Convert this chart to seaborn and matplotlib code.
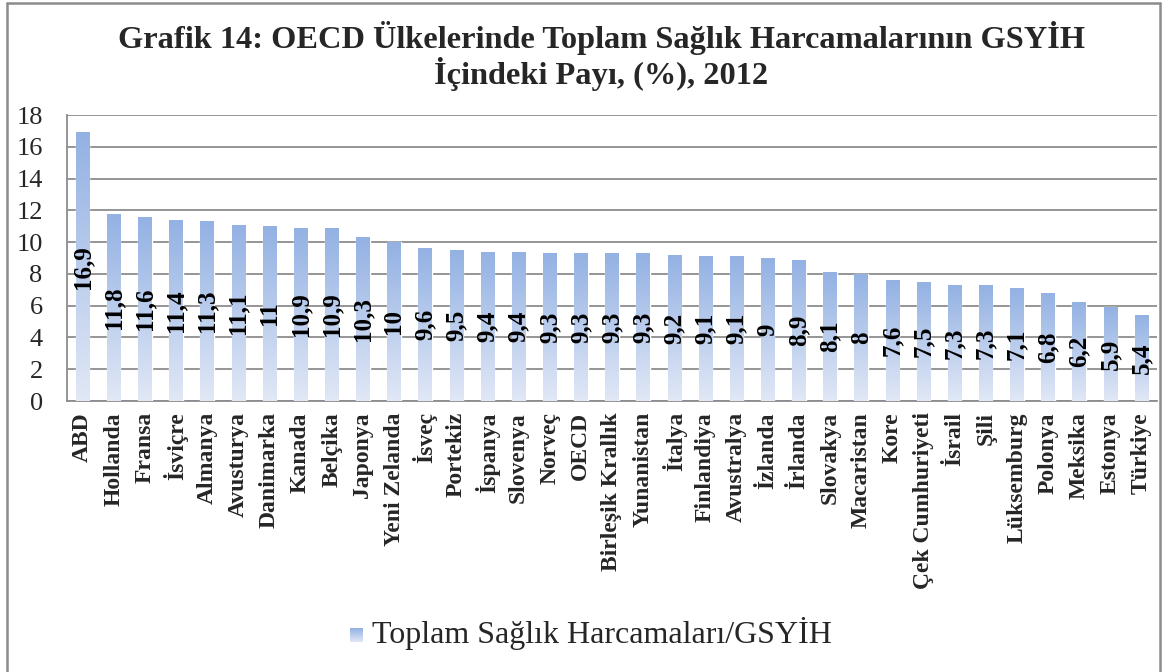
import numpy as np
import pandas as pd
import matplotlib
matplotlib.use("Agg")
import matplotlib.pyplot as plt
import seaborn as sns
from matplotlib.colors import LinearSegmentedColormap
from matplotlib.lines import Line2D

countries = ["ABD", "Hollanda", "Fransa", "İsviçre", "Almanya", "Avusturya", "Danimarka",
             "Kanada", "Belçika", "Japonya", "Yeni Zelanda", "İsveç", "Portekiz", "İspanya",
             "Slovenya", "Norveç", "OECD", "Birleşik Krallık", "Yunanistan", "İtalya",
             "Finlandiya", "Avustralya", "İzlanda", "İrlanda", "Slovakya", "Macaristan",
             "Kore", "Çek Cumhuriyeti", "İsrail", "Şili", "Lüksemburg", "Polonya",
             "Meksika", "Estonya", "Türkiye"]
values = [16.9, 11.8, 11.6, 11.4, 11.3, 11.1, 11.0, 10.9, 10.9, 10.3, 10.0, 9.6, 9.5, 9.4,
          9.4, 9.3, 9.3, 9.3, 9.3, 9.2, 9.1, 9.1, 9.0, 8.9, 8.1, 8.0, 7.6, 7.5, 7.3, 7.3,
          7.1, 6.8, 6.2, 5.9, 5.4]
yticks = [0, 2, 4, 6, 8, 10, 12, 14, 16, 18]
title = "Grafik 14: OECD Ülkelerinde Toplam Sağlık Harcamalarının GSYİH\nİçindeki Payı, (%), 2012"
series_name = "Toplam Sağlık Harcamaları/GSYİH"

df = pd.DataFrame({"country": countries, "value": values})

sns.set_style("white")
plt.rcParams["font.family"] = ["Liberation Serif", "DejaVu Serif"]

W, H = 1163, 672
fig = plt.figure(figsize=(W / 100, H / 100), dpi=100)
ax = fig.add_axes([67 / W, 1 - 401 / H, (1157 - 67) / W, (401 - 115) / H])

top_c = "#93B1E3"
bot_c = "#E1E8F6"
cmap = LinearSegmentedColormap.from_list("g", [bot_c, top_c])
grad = np.linspace(0, 1, 256).reshape(-1, 1)

sns.barplot(data=df, x="country", y="value", color=top_c, width=0.43, ax=ax,
            saturation=1, zorder=3)

ax.set_xlim(-0.5, len(countries) - 0.5)
ax.set_ylim(0, 18)
for p in list(ax.patches):
    x0 = p.get_x()
    w, h = p.get_width(), p.get_height()
    im = ax.imshow(grad, cmap=cmap, origin="lower", aspect="auto",
                   extent=(x0, x0 + w, 0, h), zorder=3.5)
    im.set_clip_path(p)
ax.set_xlim(-0.5, len(countries) - 0.5)
ax.set_ylim(0, 18)

def fmt(v):
    s = f"{v:.1f}".replace(".", ",")
    return s[:-2] if s.endswith(",0") else s

for i, v in enumerate(values):
    ax.text(i, v / 2, fmt(v), rotation=90, ha="center", va="center",
            fontsize=18, fontweight="bold", color="black", zorder=5)

gc = "#8C8C8C"
ax.set_yticks(yticks)
ax.set_yticklabels([str(t) for t in yticks], fontsize=19)
ax.grid(axis="y", color=gc, linewidth=1.3, zorder=0)
ax.set_axisbelow(True)
ax.set_xlabel("")
ax.set_ylabel("")
ax.set_xticks(range(len(countries)))
ax.set_xticklabels(countries, rotation=90, fontsize=17, fontweight="bold", va="top", ha="center")
ax.tick_params(axis="x", length=0, pad=8)
ax.set_xticks(np.arange(-0.5, len(countries), 1), minor=True)
ax.tick_params(axis="x", which="minor", length=6, width=1.3, color=gc, direction="out")
ax.tick_params(axis="y", length=7.5, width=1.3, color=gc, direction="out", pad=10)
for s in ["top", "right"]:
    ax.spines[s].set_visible(False)
for s in ["left", "bottom"]:
    ax.spines[s].set_color(gc)
    ax.spines[s].set_linewidth(1.3)

fig.text(601 / W, 1 - 56 / H, title, ha="center", va="center", fontsize=23.3,
         fontweight="bold", linespacing=1.05, multialignment="center")

# legend
lax = fig.add_axes([350 / W, 1 - 642 / H, 13 / W, 14 / H])
lax.imshow(grad, cmap=cmap, origin="lower", aspect="auto")
lax.axis("off")
fig.text(372 / W, 1 - 634 / H, series_name, ha="left", va="center", fontsize=23)

# figure frame (left, top, right visible)
xl, xr, yt = 7 / W, 1160 / W, 1 - 3 / H
for xs, ys in [([xl, xl], [0, yt]), ([xl, xr], [yt, yt]), ([xr, xr], [yt, 0])]:
    fig.add_artist(Line2D(xs, ys, transform=fig.transFigure, color=gc, linewidth=1.8))

fig.savefig("out.png", dpi=100)
